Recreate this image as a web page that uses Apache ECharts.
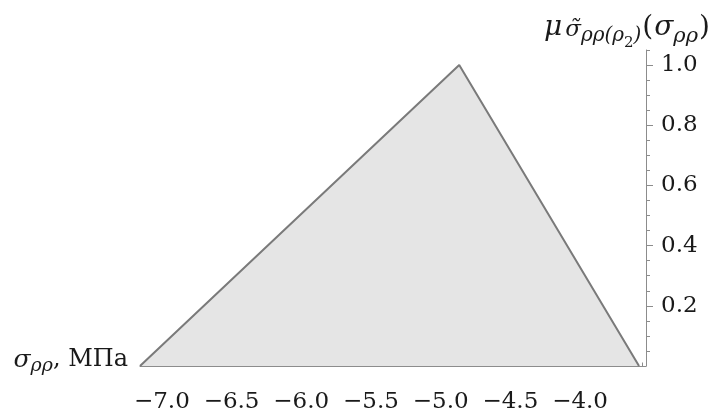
<!DOCTYPE html>
<html>
<head>
<meta charset="utf-8">
<script src="https://cdn.jsdelivr.net/npm/echarts@6/dist/echarts.min.js"></script>
<style>
  html, body { margin: 0; padding: 0; background: #ffffff; }
  #chart { width: 715px; height: 411px; }
</style>
</head>
<body>
<div id="chart"></div>
<script>
// ---- data ----
const xTickValues = [-7.0, -6.5, -6.0, -5.5, -5.0, -4.5, -4.0];
const xMinorTicks = [-7.1, -7.0, -6.9, -6.8, -6.7, -6.6, -6.5, -6.4, -6.3, -6.2, -6.1, -6.0,
  -5.9, -5.8, -5.7, -5.6, -5.5, -5.4, -5.3, -5.2, -5.1, -5.0, -4.9, -4.8, -4.7, -4.6,
  -4.5, -4.4, -4.3, -4.2, -4.1, -4.0, -3.9, -3.8, -3.7, -3.6];
const yTickValues = [0.2, 0.4, 0.6, 0.8, 1.0];
const yMinorTicks = [0.05, 0.1, 0.15, 0.2, 0.25, 0.3, 0.35, 0.4, 0.45, 0.5, 0.55, 0.6,
  0.65, 0.7, 0.75, 0.8, 0.85, 0.9, 0.95, 1.0, 1.05];
const sigmaValues = [-7.2, -4.91, -3.62];
const muValues = [0, 1, 0];
const xRange = [-7.2, -3.57];
const yRange = [0, 1.05];

const FONT = '"DejaVu Serif", "Liberation Serif", serif';
const AXIS_COLOR = '#8c8c8c';
const TEXT_COLOR = '#1a1a1a';

const chart = echarts.init(document.getElementById('chart'), null, { renderer: 'canvas' });

const fmt = v => (v < 0 ? '\u2212' : '') + Math.abs(v).toFixed(1);

const option = {
  backgroundColor: '#ffffff',
  animation: false,
  grid: { left: 140, right: 69, top: 50, bottom: 45, containLabel: false, outerBoundsMode: 'none' },
  xAxis: [
    {
      type: 'value', min: xRange[0], max: xRange[1], position: 'bottom',
      name: '{it|σ}{sub|ρρ}{rm|, МПа}',
      nameLocation: 'start', nameGap: 12, nameMoveOverlap: false,
      nameTextStyle: {
        color: TEXT_COLOR, fontFamily: FONT, padding: [0, 0, 12, 0],
        rich: {
          it: { fontFamily: FONT, fontStyle: 'italic', fontSize: 25, lineHeight: 28, color: TEXT_COLOR },
          sub: { fontFamily: FONT, fontStyle: 'italic', fontSize: 19, lineHeight: 22, padding: [12, 0, 0, 0], color: TEXT_COLOR },
          rm: { fontFamily: FONT, fontSize: 24, lineHeight: 28, color: TEXT_COLOR }
        }
      },
      axisLine: { show: true, onZero: false, lineStyle: { color: AXIS_COLOR, width: 1 } },
      axisTick: { show: true, inside: true, length: 6, customValues: xTickValues, lineStyle: { color: AXIS_COLOR } },
      axisLabel: {
        show: true, customValues: xTickValues, formatter: fmt, margin: 25,
        fontFamily: FONT, fontSize: 23, color: TEXT_COLOR, padding: [0, 12, 0, 0]
      },
      splitLine: { show: false }
    },
    {
      type: 'value', min: xRange[0], max: xRange[1], position: 'bottom', gridIndex: 0,
      axisLine: { show: false, onZero: false },
      axisTick: { show: true, inside: true, length: 3.5, customValues: xMinorTicks, lineStyle: { color: AXIS_COLOR } },
      axisLabel: { show: false },
      splitLine: { show: false }
    }
  ],
  yAxis: [
    {
      type: 'value', min: yRange[0], max: yRange[1], position: 'right',
      name: '{mu|μ}{s1|σ̃}{s2|ρρ(ρ}{s3|2}{s2|)}{rm|(}{it|σ}{sub|ρρ}{rm|)}',
      nameLocation: 'end', nameGap: 7, nameMoveOverlap: false,
      nameTextStyle: {
        color: TEXT_COLOR, fontFamily: FONT, align: 'center', verticalAlign: 'bottom', padding: [0, 37, 0, 0],
        rich: {
          mu: { fontFamily: FONT, fontStyle: 'italic', fontSize: 28, lineHeight: 30, padding: [0, 1, 0, 0], color: TEXT_COLOR },
          s1: { fontFamily: FONT, fontStyle: 'italic', fontSize: 23, lineHeight: 25, padding: [4, 0, 0, 2], color: TEXT_COLOR },
          s2: { fontFamily: FONT, fontStyle: 'italic', fontSize: 20, lineHeight: 22, padding: [16, 0, 0, 0], color: TEXT_COLOR },
          s3: { fontFamily: FONT, fontSize: 15, lineHeight: 17, padding: [30, 0, 0, 0], color: TEXT_COLOR },
          rm: { fontFamily: FONT, fontSize: 28, lineHeight: 30, padding: [0, 1, 0, 1], color: TEXT_COLOR },
          it: { fontFamily: FONT, fontStyle: 'italic', fontSize: 28, lineHeight: 30, color: TEXT_COLOR },
          sub: { fontFamily: FONT, fontStyle: 'italic', fontSize: 21, lineHeight: 23, padding: [18, 0, 0, 0], color: TEXT_COLOR }
        }
      },
      axisLine: { show: true, onZero: false, lineStyle: { color: AXIS_COLOR, width: 1 } },
      axisTick: { show: true, inside: false, length: 7, customValues: yTickValues, lineStyle: { color: AXIS_COLOR } },
      axisLabel: {
        show: true, customValues: yTickValues, formatter: v => v.toFixed(1), margin: 15,
        fontFamily: FONT, fontSize: 23, color: TEXT_COLOR
      },
      splitLine: { show: false }
    },
    {
      type: 'value', min: yRange[0], max: yRange[1], position: 'right', gridIndex: 0,
      axisLine: { show: false, onZero: false },
      axisTick: { show: true, inside: false, length: 4, customValues: yMinorTicks, lineStyle: { color: AXIS_COLOR } },
      axisLabel: { show: false },
      splitLine: { show: false }
    }
  ],
  series: [
    {
      type: 'line',
      xAxisIndex: 0, yAxisIndex: 0,
      data: sigmaValues.map((x, i) => [x, muValues[i]]),
      showSymbol: false, symbol: 'none',
      lineStyle: { color: '#7a7a7a', width: 2 },
      areaStyle: { color: '#e5e5e5', opacity: 1, origin: 'start' },
      z: 1
    }
  ]
};

chart.setOption(option);
</script>
</body>
</html>
